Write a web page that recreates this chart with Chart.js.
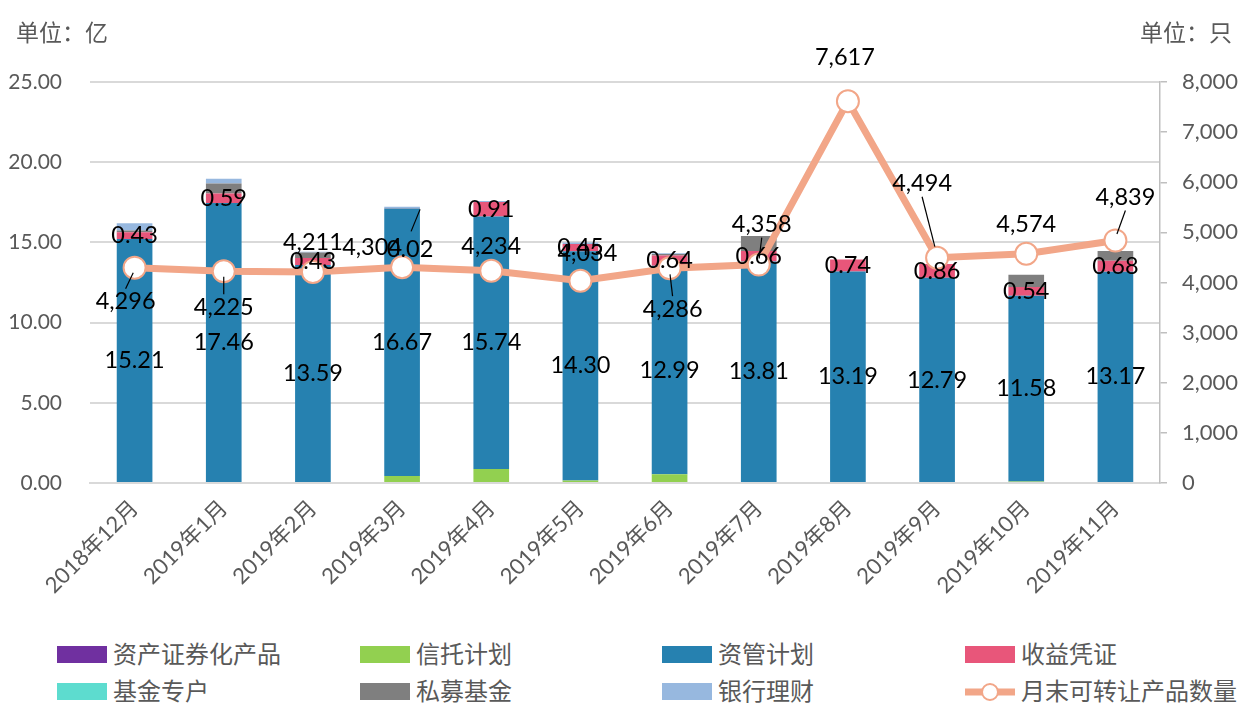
<!DOCTYPE html>
<html>
<head>
<meta charset="utf-8">
<script src="https://cdn.jsdelivr.net/npm/chart.js@4.4.1/dist/chart.umd.min.js"></script>
<style>
  body { margin: 0; background: #fff; font-family: Lato, "Noto Sans CJK SC", sans-serif; }
  #wrap { position: relative; width: 1248px; height: 704px; }
  #box { position: absolute; left: 0; top: 0; width: 1248px; height: 630px; }
  .unit { position: absolute; top: 14px; font-size: 23px; color: #595959; }
  #legend { position: absolute; left: 0; top: 640px; width: 1248px; }
  .item { position: absolute; font-size: 24px; color: #595959; line-height: 28px; white-space: nowrap; }
  .swatch { position: absolute; left: 0; top: 6px; width: 50px; height: 17px; }
  .item span.txt { position: absolute; left: 56px; top: 0; }
</style>
</head>
<body>
<div id="wrap">
  <div id="box"><canvas id="mainChart"></canvas></div>
  <div class="unit" style="left:16px">单位：亿</div>
  <div class="unit" style="left:1140px">单位：只</div>
  <div id="legend"></div>
</div>
<script>
const months = ["2018年12月","2019年1月","2019年2月","2019年3月","2019年4月","2019年5月","2019年6月","2019年7月","2019年8月","2019年9月","2019年10月","2019年11月"];

// 单位：亿
const absProducts  = [0,0,0,0,0,0,0,0,0,0,0,0];
const trustPlan    = [0,0,0,0.44,0.87,0.15,0.55,0,0,0,0.1,0];
const assetMgmt    = [15.21,17.46,13.59,16.67,15.74,14.30,12.99,13.81,13.19,12.79,11.58,13.17];
const incomeCert   = [0.43,0.59,0.43,0.02,0.91,0.45,0.64,0.66,0.74,0.86,0.54,0.68];
const fundAccount  = [0,0,0,0,0,0,0,0,0,0,0,0];
const privateFund  = [0.1,0.62,0.35,0,0,0,0.1,0.93,0,0,0.77,0.62];
const bankWealth   = [0.45,0.3,0.05,0.1,0.06,0.1,0.05,0,0,0,0,0];
// 单位：只
const productCount = [4296,4225,4211,4304,4234,4034,4286,4358,7617,4494,4574,4839];

const leftTicks = [0,5,10,15,20,25];
const rightTicks = [0,1000,2000,3000,4000,5000,6000,7000,8000];

// where the line's value labels sit, relative to the point (as placed in the original)
const countLabelShift = [[-9,34],[0,36],[0,-30],[-30,-20],[0,-24],[7,-27],[3,41],[3,-40],[-3,-44],[-15,-74],[0,-29],[10,-43]];
const countLeader = [true,true,false,false,false,false,true,true,false,true,false,true];
const certLabelShift = [[0,0],[0,0],[0,0],[8,41],[0,0],[0,0],[0,0],[0,0],[0,0],[0,0],[0,0],[0,0]];

const lineColor = "#F2A688";
const barSeries = [
  {label: "资产证券化产品", data: absProducts, color: "#7030A0"},
  {label: "信托计划", data: trustPlan, color: "#92D050"},
  {label: "资管计划", data: assetMgmt, color: "#2681B0"},
  {label: "收益凭证", data: incomeCert, color: "#E8567A"},
  {label: "基金专户", data: fundAccount, color: "#5DDCCF"},
  {label: "私募基金", data: privateFund, color: "#7F7F7F"},
  {label: "银行理财", data: bankWealth, color: "#97B8DF"}
];

const datasets = barSeries.map((s) => ({
  type: 'bar',
  label: s.label,
  data: s.data,
  backgroundColor: s.color,
  stack: 's',
  yAxisID: 'y',
  order: 1,
  barPercentage: 0.4,
  categoryPercentage: 1
}));
datasets.push({
  type: 'line',
  label: "月末可转让产品数量",
  data: productCount,
  yAxisID: 'y1',
  borderColor: lineColor,
  borderWidth: 7,
  pointRadius: 11,
  pointBackgroundColor: '#fff',
  pointBorderColor: lineColor,
  pointBorderWidth: 2,
  tension: 0,
  order: 0
});

const labelFont = '23.5px Lato, "Noto Sans CJK SC", sans-serif';

var drawLabels = {
  id: 'drawLabels',
  afterDatasetsDraw(chart) {
    const ctx = chart.ctx;
    ctx.save();
    ctx.font = labelFont;
    ctx.fillStyle = '#000';
    ctx.strokeStyle = '#000';
    ctx.lineWidth = 1.2;
    ctx.textAlign = 'center';
    ctx.textBaseline = 'middle';

    // 资管计划 values, centred in the segment
    chart.getDatasetMeta(2).data.forEach((bar, i) => {
      ctx.fillText(assetMgmt[i].toFixed(2), bar.x, (bar.y + bar.base) / 2);
    });

    // 收益凭证 values
    chart.getDatasetMeta(3).data.forEach((bar, i) => {
      const cx = bar.x, cy = (bar.y + bar.base) / 2;
      const [dx, dy] = certLabelShift[i];
      if (dx || dy) {
        ctx.beginPath();
        ctx.moveTo(cx + dx + 1, cy + dy - 18);
        ctx.lineTo(cx + 18, cy + 1);
        ctx.stroke();
      }
      ctx.fillText(incomeCert[i].toFixed(2), cx + dx, cy + dy);
    });

    // product counts on the line
    chart.getDatasetMeta(7).data.forEach((pt, i) => {
      const [dx, dy] = countLabelShift[i];
      const lx = pt.x + dx, ly = pt.y + dy;
      if (countLeader[i]) {
        const ey = dy > 0 ? ly - 13 : ly + 13;
        ctx.beginPath();
        ctx.moveTo(pt.x + (lx - pt.x) * 0.15, pt.y + (ey - pt.y) * 0.15 + (dy > 0 ? 2 : -2));
        ctx.lineTo(lx, ey);
        ctx.stroke();
      }
      ctx.fillText(productCount[i].toLocaleString('en-US'), lx, ly);
    });
    ctx.restore();
  }
};

const tickFont = {family: 'Lato, "Noto Sans CJK SC", sans-serif', size: 21};

window.myChart = new Chart(document.getElementById('mainChart'), {
  data: {labels: months, datasets: datasets},
  plugins: [drawLabels],
  options: {
    responsive: true,
    maintainAspectRatio: false,
    animation: false,
    layout: {padding: {top: 82, left: 0, right: 0, bottom: 0}},
    plugins: {legend: {display: false}, tooltip: {enabled: false}},
    scales: {
      x: {
        stacked: true,
        grid: {display: false},
        border: {color: '#d9d9d9', width: 2},
        ticks: {color: '#595959', font: {family: tickFont.family, size: 22}, maxRotation: 45, minRotation: 45, padding: 4},
        afterFit: (s) => { s.height = 147; }
      },
      y: {
        stacked: true,
        position: 'left',
        min: 0, max: 25,
        afterBuildTicks: (s) => { s.ticks = leftTicks.map((v) => ({value: v})); },
        grid: {color: '#d9d9d9', lineWidth: 2, drawTicks: false},
        border: {display: false},
        ticks: {color: '#595959', font: tickFont, padding: 28, callback: (v) => v.toFixed(2)},
        afterFit: (s) => { s.width = 90; }
      },
      y1: {
        position: 'right',
        min: 0, max: 8000,
        afterBuildTicks: (s) => { s.ticks = rightTicks.map((v) => ({value: v})); },
        grid: {drawOnChartArea: false, color: '#bfbfbf', tickLength: 7, lineWidth: 1.5},
        border: {color: '#bfbfbf', width: 1.5},
        ticks: {color: '#595959', font: {family: tickFont.family, size: 22}, padding: 15, callback: (v) => v.toLocaleString('en-US')},
        afterFit: (s) => { s.width = 88; }
      }
    }
  }
});

// legend, 4 columns x 2 rows like the original
const legendItems = barSeries.map((s) => ({label: s.label, color: s.color}));
legendItems.push({label: "月末可转让产品数量", line: true});
const colX = [57, 360, 662, 965];
const rowY = [0, 37];
const legend = document.getElementById('legend');
legendItems.forEach((it, i) => {
  const el = document.createElement('div');
  el.className = 'item';
  el.style.left = colX[i % 4] + 'px';
  el.style.top = rowY[Math.floor(i / 4)] + 'px';
  let mark;
  if (it.line) {
    mark = '<svg class="swatch" style="top:3px;height:24px" width="50" height="24">' +
      '<line x1="0" y1="12" x2="50" y2="12" stroke="' + lineColor + '" stroke-width="7"/>' +
      '<circle cx="25" cy="12" r="8" fill="#fff" stroke="' + lineColor + '" stroke-width="2"/></svg>';
  } else {
    mark = '<div class="swatch" style="background:' + it.color + '"></div>';
  }
  el.innerHTML = mark + '<span class="txt">' + it.label + '</span>';
  legend.appendChild(el);
});
</script>
</body>
</html>
